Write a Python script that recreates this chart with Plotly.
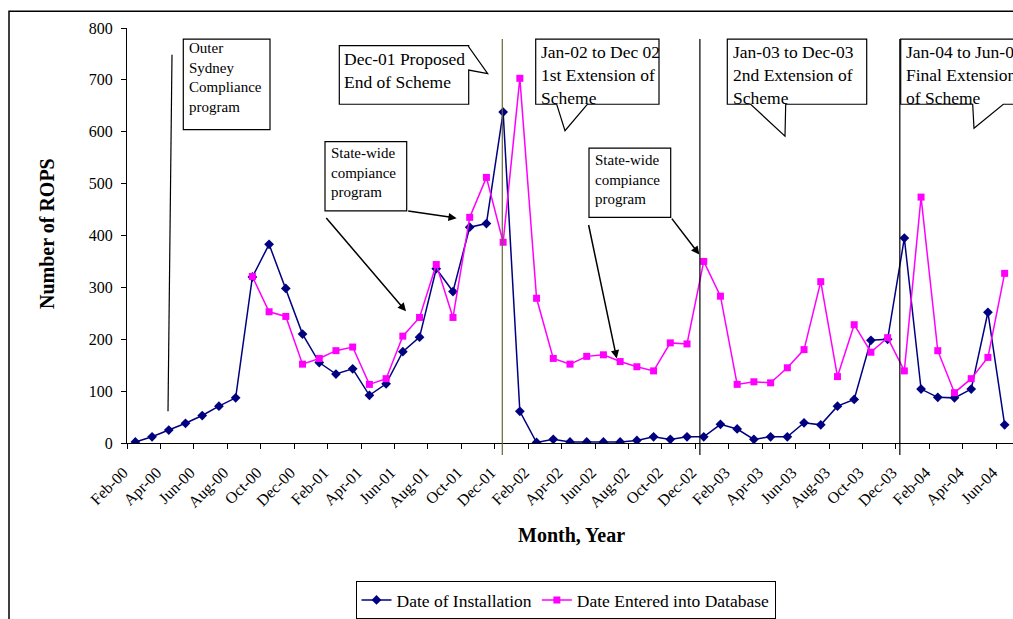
import plotly.graph_objects as go

# Monthly categories, Feb-2000 to Jun-2004
months = [
    "Feb-00", "Mar-00", "Apr-00", "May-00", "Jun-00", "Jul-00", "Aug-00", "Sep-00", "Oct-00", "Nov-00", "Dec-00",
    "Jan-01", "Feb-01", "Mar-01", "Apr-01", "May-01", "Jun-01", "Jul-01", "Aug-01", "Sep-01", "Oct-01", "Nov-01", "Dec-01",
    "Jan-02", "Feb-02", "Mar-02", "Apr-02", "May-02", "Jun-02", "Jul-02", "Aug-02", "Sep-02", "Oct-02", "Nov-02", "Dec-02",
    "Jan-03", "Feb-03", "Mar-03", "Apr-03", "May-03", "Jun-03", "Jul-03", "Aug-03", "Sep-03", "Oct-03", "Nov-03", "Dec-03",
    "Jan-04", "Feb-04", "Mar-04", "Apr-04", "May-04", "Jun-04",
]

installed = [
    2, 12, 25, 38, 53, 71, 87, 320, 383, 298, 210,
    155, 133, 143, 92, 114, 176, 204, 336, 292, 416, 423, 638,
    61, 1, 7, 2, 2, 2, 2, 5, 12, 7, 12, 12,
    36, 27, 7, 12, 12, 39, 35, 71, 84, 198, 200, 395,
    104, 88, 87, 104, 252, 35,
]

entered = [
    None, None, None, None, None, None, None, 321, 253, 244, 152,
    163, 178, 185, 113, 124, 206, 242, 344, 242, 435, 512, 387,
    703, 279, 163, 152, 167, 170, 157, 147, 139, 193, 191, 350,
    283, 113, 118, 116, 145, 180, 311, 128, 228, 175, 203, 139,
    474, 178, 97, 124, 165, 327,
]

tick_labels = months[::2]
y_ticks = list(range(0, 801, 100))

milestones = ["Dec-01", "Dec-02", "Dec-03"]
milestone_shift = [-0.05, -0.23, -0.27]
milestone_colors = ["#666633", "#000000", "#000000"]

SERIF = "Liberation Serif, Times New Roman, serif"

# Figure / plot-area geometry in pixels
FW, FH = 1013, 619
L, T = 127, 28
PW, PH = FW - L, 419


def px(x):
    return (x - L) / PW


def py(y):
    return (T + PH - y) / PH


def path(points, close=True):
    s = "M " + " L ".join(f"{px(x):.5f},{py(y):.5f}" for x, y in points)
    return s + (" Z" if close else "")


fig = go.Figure()
fig.add_trace(go.Scatter(
    x=months, y=installed, name="Date of Installation", mode="lines+markers",
    line=dict(color="#000080", width=1.5),
    marker=dict(symbol="diamond", size=7.5, color="#000080"),
))
fig.add_trace(go.Scatter(
    x=months, y=entered, name="Date Entered into Database", mode="lines+markers",
    line=dict(color="#FF00FF", width=1.5),
    marker=dict(symbol="square", size=7, color="#FF00FF"),
))

shapes = []
# milestone verticals
for m, d, c in zip(milestones, milestone_shift, milestone_colors):
    xi = months.index(m) + d
    shapes.append(dict(type="line", xref="x", yref="paper", x0=xi, x1=xi,
                       y0=py(39), y1=py(459), line=dict(color=c, width=1.2)))

box_line = dict(color="black", width=1.2)
# callout boxes
shapes.append(dict(type="path", xref="paper", yref="paper", line=box_line,
                   path=path([(183.3, 39.3), (270, 39.3), (270, 130.7), (183.3, 130.7)])))
shapes.append(dict(type="path", xref="paper", yref="paper", line=box_line,
                   path=path([(339.3, 45.7), (468.7, 45.7), (468.7, 47), (487.7, 74),
                              (468.7, 70.5), (468.7, 105), (339.3, 105)])))
shapes.append(dict(type="path", xref="paper", yref="paper", line=box_line,
                   path=path([(325, 142.7), (406.7, 142.7), (406.7, 212.7), (325, 212.7)])))
shapes.append(dict(type="path", xref="paper", yref="paper", line=box_line,
                   path=path([(535.7, 39.3), (659, 39.3), (659, 105), (587.3, 105),
                              (565, 131.7), (556.7, 105), (535.7, 105)])))
shapes.append(dict(type="path", xref="paper", yref="paper", line=box_line,
                   path=path([(727.3, 39.3), (866.7, 39.3), (866.7, 105), (785.7, 105),
                              (785, 137.3), (750.7, 105), (727.3, 105)])))
shapes.append(dict(type="path", xref="paper", yref="paper", line=box_line,
                   path=path([(900.7, 39.3), (1040, 39.3), (1040, 105), (1003.3, 105),
                              (974, 129.3), (972.7, 105), (900.7, 105)])))
shapes.append(dict(type="path", xref="paper", yref="paper", line=box_line,
                   path=path([(589, 149.3), (670.7, 149.3), (670.7, 219.3), (589, 219.3)])))
# pointer line from the Outer Sydney box
shapes.append(dict(type="line", xref="paper", yref="paper",
                   x0=px(172), y0=py(55), x1=px(168), y1=py(415),
                   line=dict(color="black", width=1.2)))
# outer frame
shapes.append(dict(type="rect", xref="paper", yref="paper",
                   x0=px(9), y0=py(11), x1=px(1040), y1=py(640),
                   line=dict(color="black", width=1.5)))

annotations = []


def note(text, x, ymid, size):
    annotations.append(dict(text=text, xref="paper", yref="paper", x=px(x), y=py(ymid),
                            xanchor="left", yanchor="middle", align="left", showarrow=False,
                            borderpad=0, font=dict(family=SERIF, size=size, color="black")))


note("Outer<br>Sydney<br>Compliance<br>program", 187.5, 77.5, 15)
note("Dec-01 Proposed<br>End of Scheme", 342.5, 71, 17.5)
note("State-wide<br>compiance<br>program", 329.5, 174, 15)
note("Jan-02 to Dec 02<br>1st Extension of<br>Scheme", 540, 75.5, 17.5)
note("Jan-03 to Dec-03<br>2nd Extension of<br>Scheme", 731.5, 75.5, 17.5)
note("Jan-04 to Jun-04<br>Final Extension<br>of Scheme", 904.5, 75.5, 17.5)
note("State-wide<br>compiance<br>program", 593.5, 180.5, 15)


def arrow(tail, head):
    annotations.append(dict(text="", xref="paper", yref="paper",
                            x=px(head[0]), y=py(head[1]),
                            ax=tail[0] - head[0], ay=tail[1] - head[1],
                            showarrow=True, arrowhead=2, arrowsize=1.1, arrowwidth=1.5,
                            arrowcolor="black", standoff=0))


arrow((406.7, 212.7), (456.7, 220))
arrow((325, 219.3), (406, 314))
arrow((670.7, 219.3), (699.3, 256.7))
arrow((588.3, 226.7), (616.7, 361.7))

# axis titles
annotations.append(dict(text="<b>Number of ROPS</b>", xref="paper", yref="paper",
                        x=px(47), y=py(236), textangle=-90, showarrow=False,
                        xanchor="center", yanchor="middle",
                        font=dict(family=SERIF, size=20, color="black")))
annotations.append(dict(text="<b>Month, Year</b>", xref="paper", yref="paper",
                        x=px(571), y=py(540), showarrow=False,
                        xanchor="center", yanchor="middle",
                        font=dict(family=SERIF, size=20, color="black")))

fig.update_layout(
    width=FW, height=FH,
    margin=dict(l=L, r=0, t=T, b=FH - T - PH, pad=0),
    paper_bgcolor="white", plot_bgcolor="white",
    font=dict(family=SERIF, color="black"),
    showlegend=True,
    legend=dict(orientation="h", x=px(565.5), y=py(587), xanchor="center", yanchor="top",
                bordercolor="black", borderwidth=1, bgcolor="white",
                font=dict(family=SERIF, size=17.5, color="black"),
                itemwidth=30, tracegroupgap=0),
    shapes=shapes,
    annotations=annotations,
)

fig.update_xaxes(
    type="category", categoryorder="array", categoryarray=months,
    range=[-0.5, len(months) - 0.5],
    tickmode="array", tickvals=tick_labels, ticktext=tick_labels,
    tickson="boundaries", ticks="outside", ticklen=5, tickcolor="black", tickwidth=1,
    tickangle=-45, tickfont=dict(family=SERIF, size=16, color="black"),
    ticklabelshift=-12, ticklabelstandoff=13,
    showline=True, linecolor="black", linewidth=1, showgrid=False, zeroline=False,
    automargin=False,
)
fig.update_yaxes(
    range=[0, 800], tickmode="array", tickvals=y_ticks,
    ticks="outside", ticklen=5, tickcolor="black", tickwidth=1,
    tickfont=dict(family=SERIF, size=16, color="black"),
    ticklabelstandoff=5,
    showline=True, linecolor="black", linewidth=1, showgrid=False, zeroline=False,
    automargin=False,
)

fig.write_html("out.html")
